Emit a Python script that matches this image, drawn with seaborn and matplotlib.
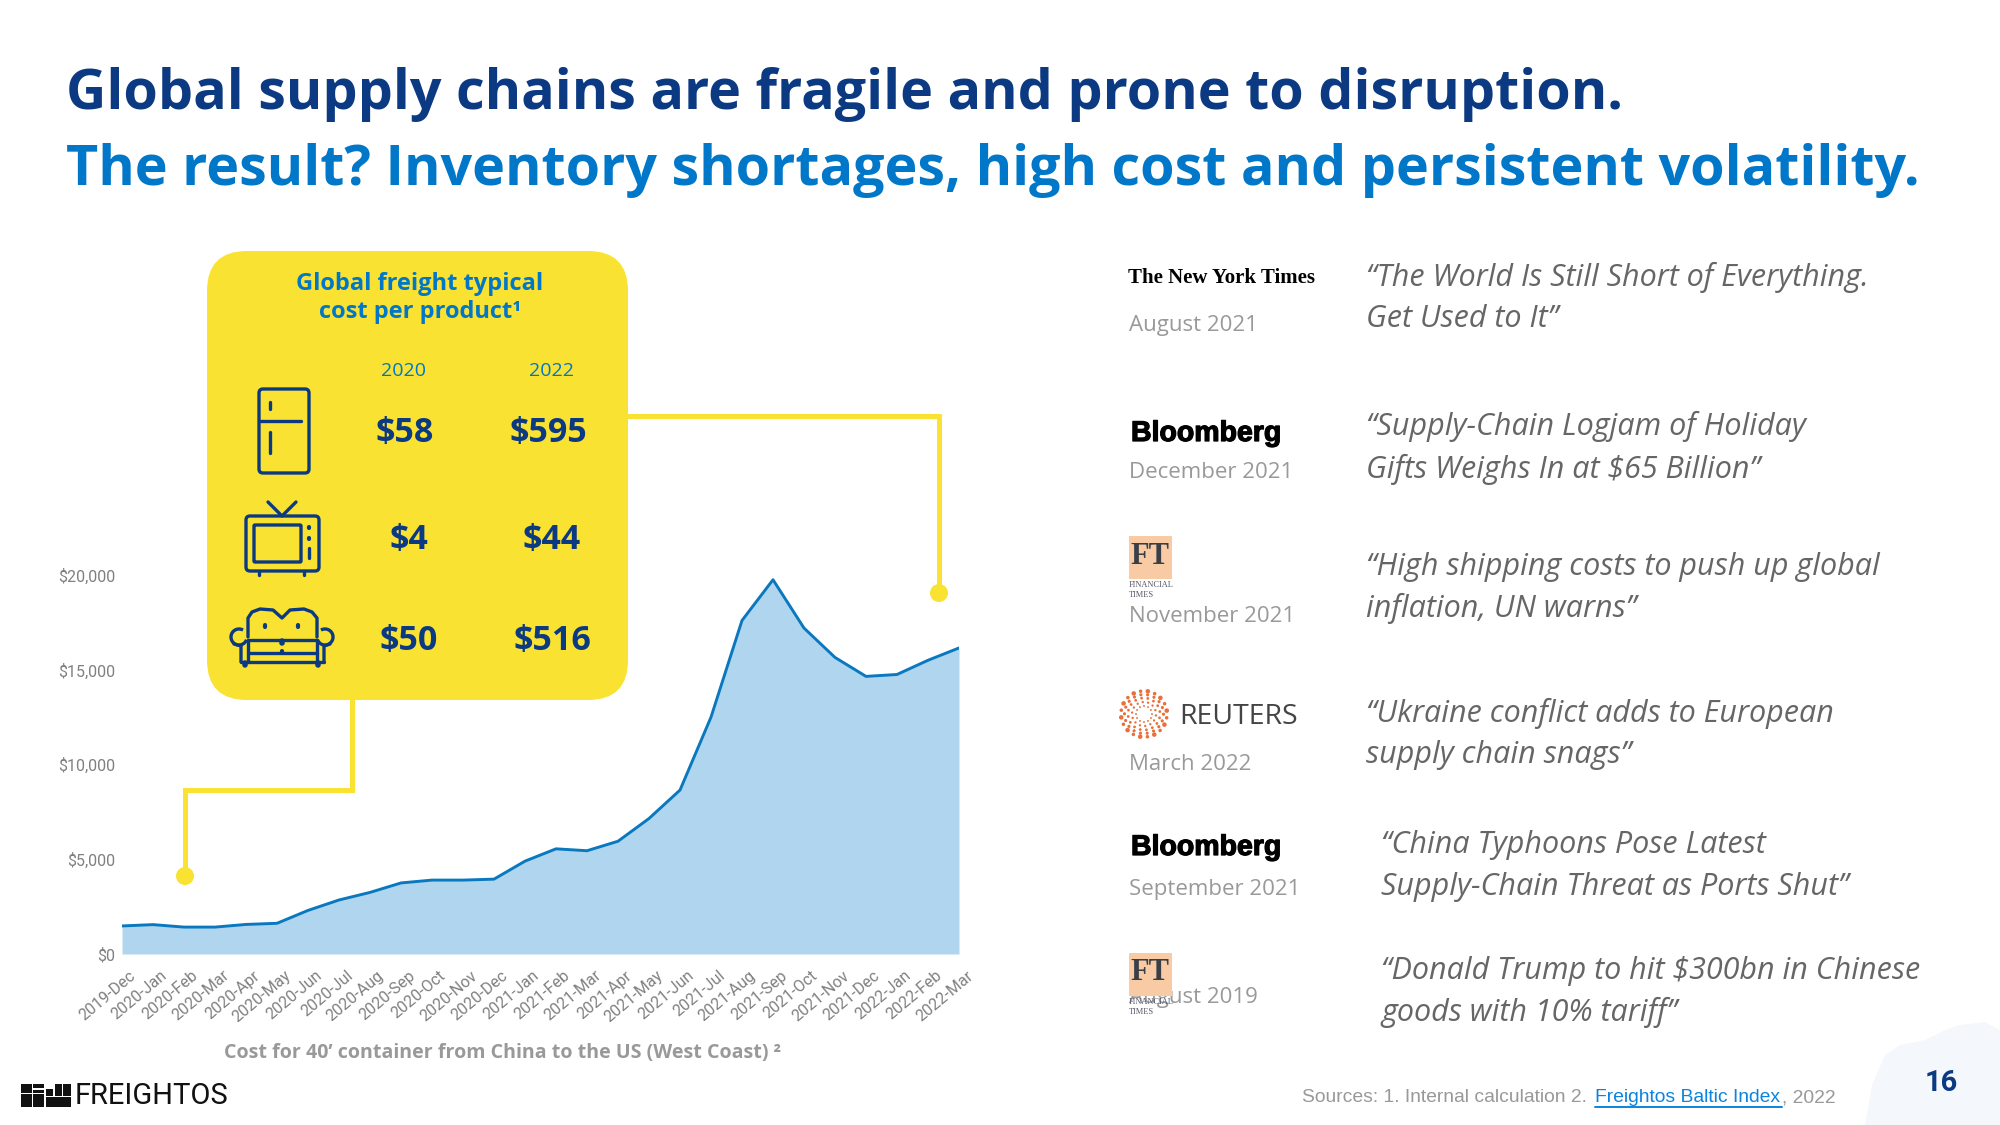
import numpy as np
import pandas as pd
import matplotlib
matplotlib.use("Agg")
import matplotlib.pyplot as plt
import seaborn as sns
import matplotlib.patheffects as pe
from matplotlib.patches import FancyBboxPatch, Rectangle, Circle, Polygon, Arc
from matplotlib.transforms import ScaledTranslation

# Data
months = ["2019-Dec", "2020-Jan", "2020-Feb", "2020-Mar", "2020-Apr", "2020-May", "2020-Jun",
          "2020-Jul", "2020-Aug", "2020-Sep", "2020-Oct", "2020-Nov", "2020-Dec", "2021-Jan",
          "2021-Feb", "2021-Mar", "2021-Apr", "2021-May", "2021-Jun", "2021-Jul", "2021-Aug",
          "2021-Sep", "2021-Oct", "2021-Nov", "2021-Dec", "2022-Jan", "2022-Feb", "2022-Mar"]
cost = [1480, 1550, 1420, 1420, 1560, 1620, 2300, 2850, 3250, 3750, 3900, 3900, 3950, 4900,
        5550, 5450, 5950, 7150, 8650, 12500, 17600, 19750, 17200, 15650, 14650, 14750, 15500, 16150]
y_ticks = [0, 5000, 10000, 15000, 20000]

table_years = ["2020", "2022"]
cost_2020 = ["$58", "$4", "$50"]
cost_2022 = ["$595", "$44", "$516"]

sources = ["The New York Times", "Bloomberg", "FT", "REUTERS", "Bloomberg", "FT"]
dates = ["August 2021", "December 2021", "November 2021", "March 2022", "September 2021", "August 2019"]
quotes = ["\u201cThe World Is Still Short of Everything.\nGet Used to It\u201d",
          "\u201cSupply-Chain Logjam of Holiday\nGifts Weighs In at $65 Billion\u201d",
          "\u201cHigh shipping costs to push up global\ninflation, UN warns\u201d",
          "\u201cUkraine conflict adds to European\nsupply chain snags\u201d",
          "\u201cChina Typhoons Pose Latest\nSupply-Chain Threat as Ports Shut\u201d",
          "\u201cDonald Trump to hit $300bn in Chinese\ngoods with 10% tariff\u201d"]

# Colours
NAVY = "#0B3A82"
BLUE = "#0077C8"
FILL = "#B0D6EF"
YELLOW = "#F9E231"
W, H = 2000, 1125

sns.set_theme(style="white")
plt.rcParams["font.family"] = ["Open Sans", "DejaVu Sans"]
fig = plt.figure(figsize=(20, 11.25), dpi=100, facecolor="white")

# Chart
df = pd.DataFrame({"month": months, "cost": cost, "pos": range(len(months))})
ax = fig.add_axes([122 / W, 1 - 954 / H, 837 / W, 379 * 1.05 / H])
ax.fill_between(df["pos"], df["cost"], color=FILL, lw=0)
sns.lineplot(data=df, x="pos", y="cost", color="#0A78BE", lw=2.1, ax=ax)
ax.set_xlim(0, len(months) - 1)
ax.set_ylim(0, 21000)
ax.set_xlabel("")
ax.set_ylabel("")
ax.set_yticks(y_ticks)
ax.set_yticklabels([f"${v:,}" for v in y_ticks], family="Roboto", fontsize=11.5, color="#808080")
ax.set_xticks(df["pos"])
ax.set_xticklabels(months, family="Roboto", fontsize=11.5, color="#808080", rotation=40,
                   ha="right", rotation_mode="anchor")
ax.tick_params(axis="x", length=0, pad=10)
ax.tick_params(axis="y", length=0, pad=5)
# tick_params resets the label transform, so the shift has to come after it
shift = ScaledTranslation(7 / 100, 0, fig.dpi_scale_trans)
for lab in ax.get_xticklabels():
    lab.set_transform(lab.get_transform() + shift)
ax.patch.set_alpha(0)
sns.despine(ax=ax, left=True, bottom=True)

# Overlay in pixel coordinates for everything around the chart
ov = fig.add_axes([0, 0, 1, 1], zorder=5)
ov.set_xlim(0, W)
ov.set_ylim(H, 0)
ov.axis("off")
ov.patch.set_alpha(0)


def icon_line(xs, ys, lw=2.4):
    ov.plot(xs, ys, color=NAVY, lw=lw, solid_capstyle="round", solid_joinstyle="round", zorder=6)


def icon_box(x, y, w, h, r=4, lw=2.4):
    ov.add_patch(FancyBboxPatch((x + r, y + r), w - 2 * r, h - 2 * r, boxstyle=f"round,pad={r},rounding_size={r}",
                                fc="none", ec=NAVY, lw=lw, zorder=6))


# Corner background blob
blob_x = [1865, 1872, 1885, 1900, 1925, 1945, 1960, 1985, 2000, 2000]
blob_y = [1125, 1085, 1055, 1045, 1040, 1030, 1025, 1022, 1030, 1125]
ov.add_patch(Polygon(list(zip(blob_x, blob_y)), fc="#F4F8FC", ec="none", zorder=0))

# Connectors
ov.plot([628, 939, 939], [416, 416, 593], color=YELLOW, lw=3.6, solid_joinstyle="miter", zorder=2)
ov.plot([352, 352, 185, 185], [700, 790, 790, 876], color=YELLOW, lw=3.6, solid_joinstyle="miter", zorder=2)
ov.add_patch(Circle((939, 593), 9, fc=YELLOW, ec="none", zorder=2))
ov.add_patch(Circle((185, 876), 9, fc=YELLOW, ec="none", zorder=2))

# Yellow box
ov.add_patch(FancyBboxPatch((247, 291), 341, 369, boxstyle="round,pad=40,rounding_size=40",
                            fc=YELLOW, ec="none", zorder=3))
ov.text(420, 298, "Global freight typical\ncost per product\u00b9", color=BLUE, fontsize=17, fontweight="bold",
        ha="center", va="center", linespacing=1.18, zorder=6)
for x, yr in zip([404, 551], table_years):
    ov.text(x, 371, yr, color=BLUE, fontsize=14, ha="center", va="center", zorder=6)
for y, a, b, xa, xb in zip([433, 540, 641], cost_2020, cost_2022, [405, 409, 409], [548, 552, 552]):
    ov.text(xa, y, a, color=NAVY, fontsize=24.5, fontweight="bold", ha="center", va="center", zorder=6)
    ov.text(xb, y, b, color=NAVY, fontsize=24.5, fontweight="bold", ha="center", va="center", zorder=6)

# Fridge icon
icon_box(259, 389, 50, 84)
icon_line([259, 301], [421, 421])
icon_line([270, 270], [402, 409])
icon_line([270, 270], [432, 453])
# TV icon
icon_box(246, 516, 73, 55)
icon_box(254, 525, 47, 37, r=1)
icon_line([268, 282, 296], [502, 516, 502])
icon_line([309, 309], [527, 528], lw=3)
icon_line([309, 309], [538, 539], lw=3)
icon_line([309, 309], [548, 558])
icon_line([259, 259], [571, 575])
icon_line([304, 304], [571, 575])
# Sofa icon
icon_line([248, 248, 252, 260, 273, 282, 290, 304, 312, 317, 317],
          [637, 618, 612, 609, 610, 618, 610, 609, 612, 618, 637])
icon_line([248, 317], [640, 640])
icon_line([248, 317], [653, 653])
icon_line([241, 324], [662, 662])
icon_line([248, 248], [640, 662])
icon_line([317, 317], [640, 662])
ov.add_patch(Arc((239, 637), 16, 16, theta1=20, theta2=300, ec=NAVY, lw=2.4, zorder=6))
ov.add_patch(Arc((325, 637), 16, 16, theta1=240, theta2=160, ec=NAVY, lw=2.4, zorder=6))
icon_line([234, 241, 241], [644, 646, 662])
icon_line([330, 324, 324], [644, 646, 662])
icon_line([265, 265], [625, 627], lw=3)
icon_line([298, 298], [625, 627], lw=3)
icon_line([282, 282], [641, 643], lw=4)
icon_line([282, 282], [651, 653], lw=3)
icon_line([245, 245], [663, 665], lw=4)
icon_line([318, 318], [663, 665], lw=4)

# Titles
ov.text(66, 94, "Global supply chains are fragile and prone to disruption.", color=NAVY,
        fontsize=40.1, fontweight="bold", ha="left", va="center")
ov.text(66, 171, "The result? Inventory shortages, high cost and persistent volatility.", color=BLUE,
        fontsize=40.1, fontweight="bold", ha="left", va="center")

# Chart caption
ov.text(224, 1053, "Cost for 40\u2019 container from China to the US (West Coast) \u00b2", color="#999999",
        fontsize=14.1, fontweight="bold", ha="left", va="center")

# Press quotes
logo_y = [278, 434, 553, 717, 848, 970]
date_y = [325, 472, 617, 765, 889, 998]
quote_x = [1366, 1366, 1366, 1366, 1381, 1381]
quote_y = [298, 448, 588, 734, 866, 992]
for src, date, quote, ly, dy, qx, qy in zip(sources, dates, quotes, logo_y, date_y, quote_x, quote_y):
    ov.text(1129, dy, date, color="#999999", fontsize=16, ha="left", va="center", zorder=1)
    ov.text(qx, qy, quote, color="#666666", fontsize=22, style="italic", ha="left", va="center", linespacing=1.48)
    if src == "The New York Times":
        ov.text(1128, ly, src, color="black", family="Liberation Serif", fontsize=15, fontweight="bold",
                ha="left", va="center")
    elif src == "Bloomberg":
        ov.text(1131, ly, src, color="black", family="Liberation Sans", fontsize=20.5, fontweight="bold",
                ha="left", va="center", path_effects=[pe.withStroke(linewidth=0.9, foreground="black")])
    elif src == "FT":
        ov.add_patch(Rectangle((1129, ly - 17), 43, 43, fc="#F9CBA4", ec="none", zorder=2))
        ov.text(1150, ly + 3, src, color="#3A3F47", family="Liberation Serif", fontsize=22, fontweight="bold",
                ha="center", va="center", zorder=3)
        ov.text(1129, ly + 37, "FINANCIAL\nTIMES", color="#555566", family="Liberation Serif", fontsize=6,
                ha="left", va="center", zorder=3)
    else:
        # Reuters dot mark
        for i, (ring, n) in enumerate(zip([8, 12, 16, 19.5, 23], [12, 14, 16, 18, 20])):
            for k in range(n):
                a = 2 * np.pi * k / n + i * 0.12
                size = 0.5 + ring * 0.055 + (0.5 if (i == 4 and k % 2 == 0) else 0)
                ov.add_patch(Circle((1144 + ring * np.cos(a), ly - 3 + ring * np.sin(a)), size,
                                    fc="#E8703A", ec="none"))
        ov.text(1179, ly, src, color="#444444", family="Open Sans", fontsize=20.5, ha="left", va="center")

# Footer
ov.text(1302, 1098, "Sources: 1. Internal calculation 2.", color="#999999", family="Liberation Sans",
        fontsize=13.9, ha="left", va="center")
ov.text(1595, 1098, "Freightos Baltic Index", color="#0A84E0", family="Liberation Sans", fontsize=13.9,
        ha="left", va="center")
ov.plot([1595, 1782], [1107, 1107], color="#0A84E0", lw=1.4)
ov.text(1782, 1098, ", 2022", color="#999999", family="Liberation Sans", fontsize=13.9, ha="left", va="center")
ov.text(1941, 1083, "16", color=NAVY, family="Roboto", fontsize=21, fontweight="bold", ha="center", va="center")

# Freightos logo
for bx, by, bw, bh in [(21, 1084, 11, 9), (33, 1084, 11, 4), (33, 1090, 11, 3), (21, 1094, 11, 13),
                       (33, 1094, 11, 13), (46, 1097, 25, 10), (46, 1089, 7, 7), (55, 1084, 7, 12),
                       (63, 1084, 8, 12)]:
    ov.add_patch(Rectangle((bx, by), bw, bh, fc="#111111", ec="none"))
ov.text(75, 1096, "FREIGHTOS", color="#111111", family="Roboto", fontsize=21, ha="left", va="center")

fig.savefig("out.png", dpi=100)
